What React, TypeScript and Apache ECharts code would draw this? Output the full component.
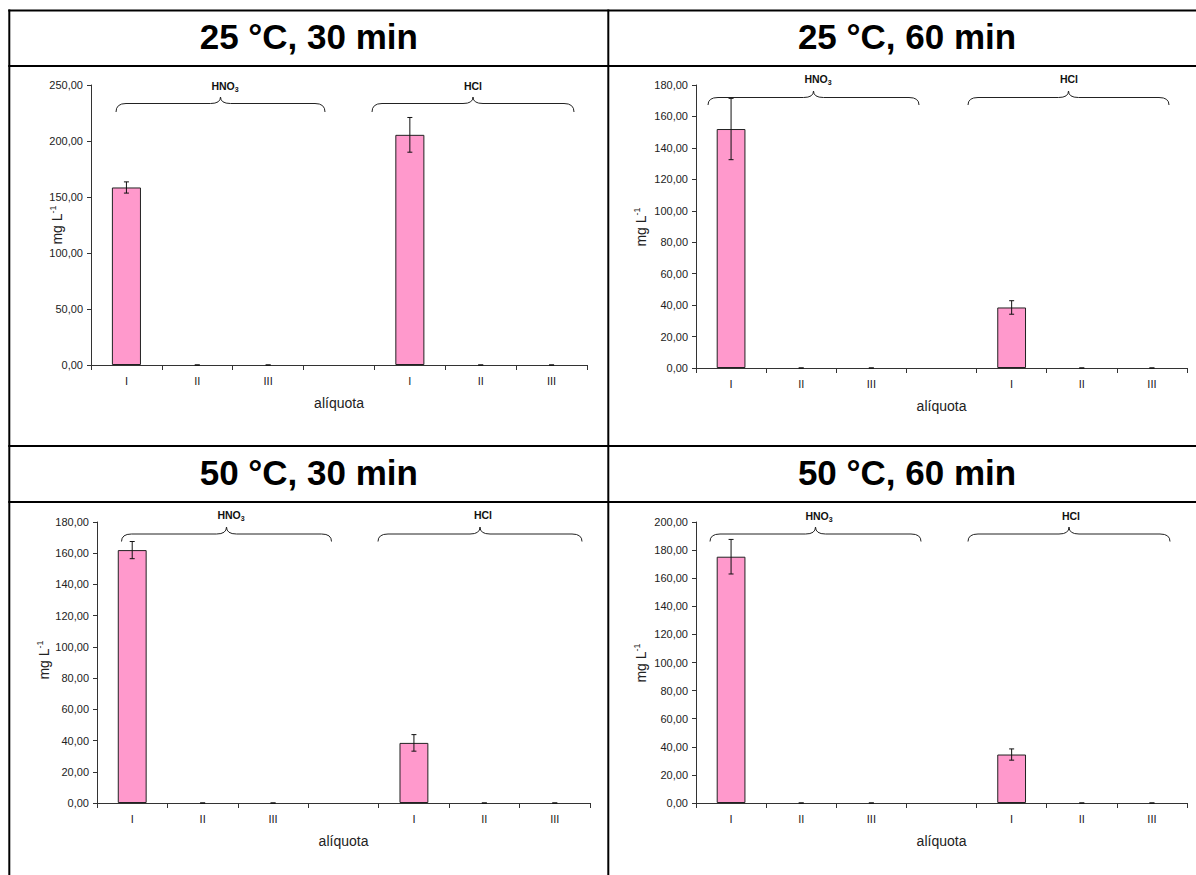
import React, { useEffect, useRef } from 'react';
import * as echarts from 'echarts';

// Aliquot categories; the empty slot separates the HNO3 group from the HCl group
const categories = ['I', 'II', 'III', '', 'I', 'II', 'III'];
const panelTitles = ['25 °C, 30 min', '25 °C, 60 min', '50 °C, 30 min', '50 °C, 60 min'];

// Mean concentration (mg L-1) and standard deviation for each aliquot
const means2530 = [158.5, 0, 0, null, 205.5, 0, 0];
const errors2530 = [5, 0, 0, null, 15.5, 0, 0];
const means2560 = [152, 0, 0, null, 38.5, 0, 0];
const errors2560 = [19.5, 0, 0, null, 4.3, 0, 0];
const means5030 = [162, 0, 0, null, 38.5, 0, 0];
const errors5030 = [5.5, 0, 0, null, 5.3, 0, 0];
const means5060 = [175.3, 0, 0, null, 34.5, 0, 0];
const errors5060 = [12.3, 0, 0, null, 4, 0, 0];

const axisMax = [250, 180, 180, 200];
const axisStep = [50, 20, 20, 20];

const FONT = '"Liberation Sans", Arial, Helvetica, sans-serif';
const PINK = '#FF99CC';

type Panel = {
  grid: { left: number; top: number; width: number; height: number };
  title: [number, number];
  yName: [number, number];
  braces: Array<{ x0: number; x1: number; xm: number; yEnd: number; yFlat: number; yPeak: number; label: string; ly: number; lx: number }>;
};

const panels: Panel[] = [
  {
    grid: { left: 91, top: 85, width: 496, height: 280 },
    title: [308.8, 36.5],
    yName: [57, 225],
    braces: [
      { x0: 116, x1: 325, xm: 220.5, yEnd: 112, yFlat: 103.5, yPeak: 97, label: 'HNO', lx: 225, ly: 86 },
      { x0: 372, x1: 574, xm: 473, yEnd: 112, yFlat: 103.5, yPeak: 97, label: 'HCl', lx: 473, ly: 86 },
    ],
  },
  {
    grid: { left: 696, top: 85, width: 491, height: 283 },
    title: [907, 36.5],
    yName: [641, 227],
    braces: [
      { x0: 708, x1: 919, xm: 813.5, yEnd: 105, yFlat: 97.5, yPeak: 91, label: 'HNO', lx: 818, ly: 79 },
      { x0: 968, x1: 1169, xm: 1068.5, yEnd: 105, yFlat: 97.5, yPeak: 91, label: 'HCl', lx: 1069, ly: 79 },
    ],
  },
  {
    grid: { left: 97, top: 522, width: 493, height: 281 },
    title: [308.8, 472.5],
    yName: [44, 660],
    braces: [
      { x0: 121.5, x1: 331.5, xm: 226.5, yEnd: 541.5, yFlat: 534, yPeak: 527, label: 'HNO', lx: 231, ly: 515 },
      { x0: 378, x1: 582, xm: 480, yEnd: 541.5, yFlat: 534, yPeak: 527, label: 'HCl', lx: 483, ly: 515 },
    ],
  },
  {
    grid: { left: 696, top: 522, width: 491, height: 281 },
    title: [907, 472.5],
    yName: [641, 663],
    braces: [
      { x0: 710, x1: 921, xm: 815.5, yEnd: 541.5, yFlat: 534, yPeak: 527, label: 'HNO', lx: 819, ly: 516 },
      { x0: 968, x1: 1170, xm: 1069, yEnd: 541.5, yFlat: 534, yPeak: 527, label: 'HCl', lx: 1071, ly: 516 },
    ],
  },
];

const seriesMeans = [means2530, means2560, means5030, means5060];
const seriesErrors = [errors2530, errors2560, errors5030, errors5060];

const fmt = (v: number) => v.toFixed(2).replace('.', ',');

function braceElements(b: Panel['braces'][number]) {
  const r = 10;
  const st = { stroke: '#222', lineWidth: 1, fill: 'none' };
  const els: any[] = [
    { type: 'bezierCurve', shape: { x1: b.x0, y1: b.yEnd, cpx1: b.x0, cpy1: b.yFlat, x2: b.x0 + r, y2: b.yFlat }, style: st },
    { type: 'line', shape: { x1: b.x0 + r, y1: b.yFlat, x2: b.xm - r, y2: b.yFlat }, style: st },
    { type: 'bezierCurve', shape: { x1: b.xm - r, y1: b.yFlat, cpx1: b.xm, cpy1: b.yFlat, x2: b.xm, y2: b.yPeak }, style: st },
    { type: 'bezierCurve', shape: { x1: b.xm, y1: b.yPeak, cpx1: b.xm, cpy1: b.yFlat, x2: b.xm + r, y2: b.yFlat }, style: st },
    { type: 'line', shape: { x1: b.xm + r, y1: b.yFlat, x2: b.x1 - r, y2: b.yFlat }, style: st },
    { type: 'bezierCurve', shape: { x1: b.x1 - r, y1: b.yFlat, cpx1: b.x1, cpy1: b.yFlat, x2: b.x1, y2: b.yEnd }, style: st },
  ];
  const text = b.label === 'HNO' ? '{a|HNO}{s|3}' : '{a|HCl}';
  els.push({
    type: 'text',
    x: b.lx,
    y: b.ly,
    style: {
      text,
      align: 'center',
      verticalAlign: 'middle',
      fill: '#111',
      rich: {
        a: { fontFamily: FONT, fontSize: 10.5, fontWeight: 'bold', lineHeight: 14, fill: '#111' },
        s: { fontFamily: FONT, fontSize: 7, fontWeight: 'bold', lineHeight: 7, verticalAlign: 'bottom', fill: '#111' },
      },
    },
  });
  return els;
}

export default function App() {
  const ref = useRef<HTMLDivElement>(null);

  useEffect(() => {
    if (!ref.current) return;
    const chart = echarts.init(ref.current, undefined, { renderer: 'svg' });

    const grids = panels.map((p) => ({ ...p.grid, containLabel: false }));
    const xAxes = panels.map((_, i) => ({
      type: 'category',
      gridIndex: i,
      data: categories,
      boundaryGap: true,
      axisLine: { show: true, lineStyle: { color: '#333', width: 1 } },
      axisTick: { show: true, interval: 0, length: 5, inside: false, lineStyle: { color: '#333' } },
      axisLabel: { interval: 0, margin: 10, fontFamily: FONT, fontSize: 11, color: '#222' },
      name: 'alíquota',
      nameLocation: 'middle',
      nameGap: 31,
      nameTextStyle: { fontFamily: FONT, fontSize: 14, color: '#222' },
    }));
    const yAxes = panels.map((_, i) => ({
      type: 'value',
      gridIndex: i,
      min: 0,
      max: axisMax[i],
      interval: axisStep[i],
      axisLine: { show: true, lineStyle: { color: '#333', width: 1 } },
      axisTick: { show: true, length: 4, lineStyle: { color: '#333' } },
      axisLabel: { margin: 8, fontFamily: FONT, fontSize: 11, color: '#222', formatter: fmt },
      splitLine: { show: false },
    }));

    const series: any[] = [];
    panels.forEach((_, i) => {
      series.push({
        type: 'bar',
        xAxisIndex: i,
        yAxisIndex: i,
        // zero-height bars get no outline so only their error caps show on the axis
        data: seriesMeans[i].map((v) =>
          v === null ? null : { value: v, itemStyle: { borderWidth: v === 0 ? 0 : 1 } }
        ),
        barWidth: '41%',
        itemStyle: { color: PINK, borderColor: '#222', borderWidth: 1 },
        silent: true,
      });
      const errData = seriesMeans[i]
        .map((m, k) => (m === null ? null : [k, (m as number) - (seriesErrors[i][k] as number), (m as number) + (seriesErrors[i][k] as number)]))
        .filter((d) => d !== null);
      series.push({
        type: 'custom',
        xAxisIndex: i,
        yAxisIndex: i,
        data: errData,
        z: 5,
        silent: true,
        renderItem: (_p: any, api: any) => {
          const x = api.value(0);
          const lo = api.coord([x, api.value(1)]);
          const hi = api.coord([x, api.value(2)]);
          const w = 2.5;
          const st = { stroke: '#111', lineWidth: 1 };
          return {
            type: 'group',
            children: [
              { type: 'line', shape: { x1: hi[0], y1: hi[1], x2: lo[0], y2: lo[1] }, style: st },
              { type: 'line', shape: { x1: hi[0] - w, y1: hi[1], x2: hi[0] + w, y2: hi[1] }, style: st },
              { type: 'line', shape: { x1: lo[0] - w, y1: lo[1], x2: lo[0] + w, y2: lo[1] }, style: st },
            ],
          };
        },
      });
    });

    const border = { stroke: '#000', lineWidth: 2 };
    const graphic: any[] = [
      { type: 'line', shape: { x1: 8.3, y1: 10.5, x2: 1196, y2: 10.5 }, style: border },
      { type: 'line', shape: { x1: 9.3, y1: 9.5, x2: 9.3, y2: 875 }, style: border },
      { type: 'line', shape: { x1: 608.3, y1: 9.5, x2: 608.3, y2: 875 }, style: border },
      { type: 'line', shape: { x1: 8.3, y1: 66, x2: 1196, y2: 66 }, style: border },
      { type: 'line', shape: { x1: 8.3, y1: 446, x2: 1196, y2: 446 }, style: border },
      { type: 'line', shape: { x1: 8.3, y1: 502, x2: 1196, y2: 502 }, style: border },
    ];
    panels.forEach((p, i) => {
      graphic.push({
        type: 'text',
        x: p.title[0],
        y: p.title[1],
        style: {
          text: panelTitles[i],
          align: 'center',
          verticalAlign: 'middle',
          fontFamily: FONT,
          fontSize: 35,
          fontWeight: 'bold',
          fill: '#000',
        },
      });
      graphic.push({
        type: 'text',
        x: p.yName[0],
        y: p.yName[1],
        rotation: Math.PI / 2,
        style: {
          text: '{a|mg L}{s|-1}',
          align: 'center',
          verticalAlign: 'middle',
          fill: '#222',
          rich: {
            a: { fontFamily: FONT, fontSize: 14, lineHeight: 18, fill: '#222' },
            s: { fontFamily: FONT, fontSize: 9, lineHeight: 9, verticalAlign: 'top', fill: '#222' },
          },
        },
      });
      p.braces.forEach((b) => graphic.push(...braceElements(b)));
    });

    chart.setOption({
      animation: false,
      backgroundColor: '#fff',
      grid: grids,
      xAxis: xAxes,
      yAxis: yAxes,
      series,
      graphic,
    });

    return () => chart.dispose();
  }, []);

  return (
    <div
      ref={ref}
      style={{ position: 'fixed', left: 0, top: 0, width: 1196, height: 875, background: '#fff' }}
    />
  );
}
